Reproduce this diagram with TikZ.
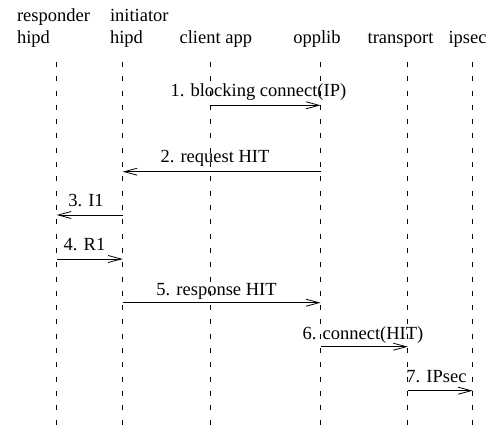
\documentclass[tikz,border=0pt]{standalone}
\usepackage{fontspec}
\setmainfont{Liberation Serif}
\usetikzlibrary{arrows.meta}
\begin{document}
\begin{tikzpicture}[x=1pt,y=-1pt,
  every node/.style={font=\fontsize{18.5}{22}\selectfont, inner sep=0pt, outer sep=0pt},
  head/.style={align=left, anchor=base west},
  life/.style={line width=0.8pt, dash pattern=on 5pt off 9.3pt},
  msg/.style={line width=0.8pt, -{Straight Barb[length=13pt,width=7pt]}},
  lbl/.style={anchor=base}]
\useasboundingbox (0,0) rectangle (494,430);
% headers
\node[head] (resp) at (17,44) {responder\\hipd};
\node[head] (init) at (110,44) {initiator\\hipd};
\node[lbl] (app) at (215.8,43.5) {client app};
\node[lbl] (opp) at (316.9,43.5) {opplib};
\node[lbl] (trans) at (400.5,43.5) {transport};
\node[lbl] (ips) at (467.5,43.5) {ipsec};
% lifelines
\coordinate (respT) at (56.7,62);  \coordinate (respB) at (56.7,430);
\coordinate (initT) at (122.7,62); \coordinate (initB) at (122.7,430);
\coordinate (appT) at (210.7,62);  \coordinate (appB) at (210.7,430);
\coordinate (oppT) at (320.6,62);  \coordinate (oppB) at (320.6,430);
\coordinate (transT) at (407.8,62); \coordinate (transB) at (407.8,430);
\coordinate (ipsT) at (472.7,62);  \coordinate (ipsB) at (472.7,430);
\foreach \l in {resp,init,app,opp,trans,ips}
  \draw[life] (\l T) -- (\l B);
% message levels
\coordinate (m1) at (0,105.3);
\coordinate (m2) at (0,171.7);
\coordinate (m3) at (0,215);
\coordinate (m4) at (0,259);
\coordinate (m5) at (0,302.7);
\coordinate (m6) at (0,346.7);
\coordinate (m7) at (0,390.7);
% messages
\draw[msg] (appT|-m1) -- (oppT|-m1);
\draw[msg] (oppT|-m2) -- (initT|-m2);
\draw[msg] (initT|-m3) -- (respT|-m3);
\draw[msg] (respT|-m4) -- (initT|-m4);
\draw[msg] (initT|-m5) -- (oppT|-m5);
\draw[msg] (oppT|-m6) -- (transT|-m6);
\draw[msg] (transT|-m7) -- (ipsT|-m7);
% labels
\node[lbl] (l1) at (258.4,96.7) {1. blocking connect(IP)};
\node[lbl] (l2) at (215,163) {2. request HIT};
\node[lbl] (l3) at (86,206.7) {3. I1};
\node[lbl] (l4) at (84.5,250.7) {4. R1};
\node[lbl] (l5) at (216.5,295) {5. response HIT};
\node[lbl] (l6) at (363,339.3) {6. connect(HIT)};
\node[lbl] (l7) at (436.5,382.7) {7. IPsec};
\end{tikzpicture}
\end{document}
